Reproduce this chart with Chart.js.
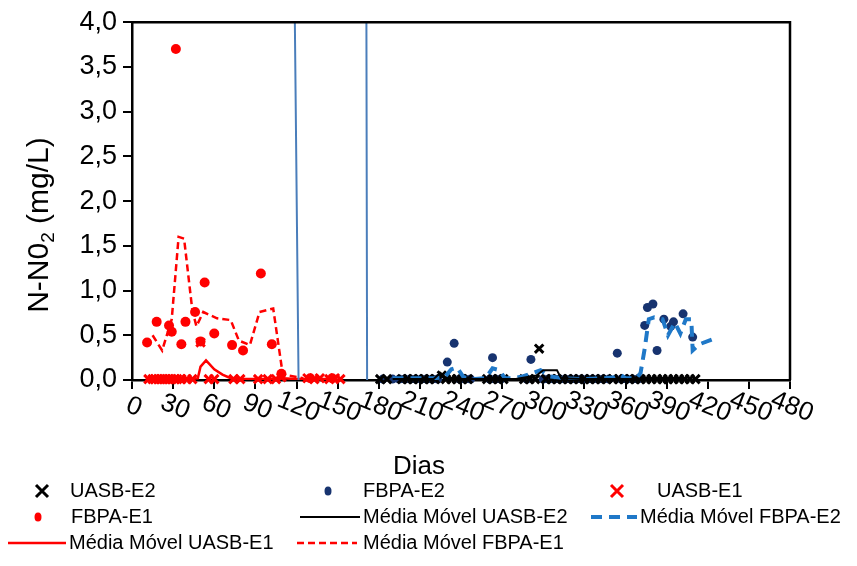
<!DOCTYPE html>
<html>
<head>
<meta charset="utf-8">
<script src="https://cdn.jsdelivr.net/npm/chart.js@4.4.1/dist/chart.umd.min.js"></script>
<style>
  html, body { margin: 0; padding: 0; background: #fff; }
  canvas { display: block; }
</style>
</head>
<body>
<canvas id="chart" width="857" height="566"></canvas>
<script>
// values (days, N-NO2 mg/L)
const uasbE2Days = [181, 186, 197, 201, 205, 209, 213, 217, 221, 226, 229, 233, 237, 241, 245,
  259, 263, 267, 271, 286, 290, 294, 297, 302, 306, 310, 314, 318, 322, 326, 330, 334, 338,
  342, 346, 351, 355, 359, 363, 367, 371, 375, 379, 383, 387, 391, 395, 399, 403, 407, 411];
const uasbE2Vals = [0.01, 0.01, 0.01, 0.01, 0.01, 0.01, 0.01, 0.01, 0.01, 0.05, 0.01, 0.01, 0.01, 0.01, 0.01,
  0.01, 0.01, 0.01, 0.01, 0.01, 0.01, 0.01, 0.35, 0.01, 0.01, 0.01, 0.01, 0.01, 0.01, 0.01, 0.01, 0.01, 0.01,
  0.01, 0.01, 0.01, 0.01, 0.01, 0.01, 0.01, 0.01, 0.01, 0.01, 0.01, 0.01, 0.01, 0.01, 0.01, 0.01, 0.01, 0.01];

const fbpaE2Days = [183, 190, 195, 199, 203, 207, 211, 215, 219, 223, 230, 235, 239, 243, 247,
  261, 263, 265, 269, 288, 291, 300, 304, 308, 312, 316, 320, 324, 328, 332, 336, 340, 344, 348,
  354, 357, 361, 365, 369, 374, 376, 380, 383, 388, 393, 395, 402, 409];
const fbpaE2Vals = [0.01, 0.01, 0.01, 0.01, 0.01, 0.01, 0.01, 0.01, 0.01, 0.01, 0.20, 0.41, 0.01, 0.01, 0.01,
  0.01, 0.25, 0.01, 0.01, 0.01, 0.23, 0.01, 0.01, 0.01, 0.01, 0.01, 0.01, 0.01, 0.01, 0.01, 0.01, 0.01, 0.01, 0.01,
  0.30, 0.01, 0.01, 0.01, 0.01, 0.61, 0.81, 0.85, 0.33, 0.68, 0.60, 0.65, 0.74, 0.48];

const uasbE1Days = [12, 15, 17, 19, 21, 23, 25, 27, 29, 31, 33, 36, 40, 44, 50, 56, 60, 74, 79,
  92, 99, 105, 109, 128, 133, 137, 144, 148, 152];
const uasbE1Vals = [0.01, 0.01, 0.01, 0.01, 0.01, 0.01, 0.01, 0.01, 0.01, 0.01, 0.01, 0.01, 0.01, 0.01, 0.42,
  0.01, 0.01, 0.01, 0.01, 0.01, 0.01, 0.01, 0.03, 0.02, 0.01, 0.02, 0.01, 0.02, 0.01];

const fbpaE1Days = [11, 18, 27, 29, 32, 36, 39, 46, 50, 53, 60, 73, 81, 94, 102, 109, 130, 146];
const fbpaE1Vals = [0.42, 0.65, 0.61, 0.54, 3.70, 0.40, 0.65, 0.76, 0.43, 1.09, 0.52, 0.39, 0.33,
  1.19, 0.40, 0.07, 0.02, 0.02];

const mmUasbE2Days = [190, 205, 220, 225, 230, 245, 260, 280, 295, 300, 310, 313, 330, 350, 370, 390, 405];
const mmUasbE2Vals = [0.01, 0.01, 0.01, 0.08, 0.01, 0.01, 0.01, 0.01, 0.05, 0.11, 0.11, 0.02, 0.01, 0.01, 0.01, 0.01, 0.01];

const mmFbpaE2Days = [190, 200, 210, 220, 228, 233, 237, 242, 250, 258, 263, 268, 272, 278, 285, 291,
  298, 305, 315, 330, 345, 352, 356, 360, 368, 371, 374, 377, 381, 387, 391, 396, 400, 404, 408, 409, 414, 426];
const mmFbpaE2Vals = [0.02, 0.02, 0.02, 0.02, 0.03, 0.12, 0.14, 0.03, 0.01, 0.02, 0.13, 0.11, 0.02, 0.02, 0.04, 0.07,
  0.11, 0.04, 0.02, 0.01, 0.02, 0.03, 0.06, 0.02, 0.02, 0.08, 0.35, 0.68, 0.70, 0.68, 0.50, 0.64, 0.52, 0.68, 0.68, 0.33, 0.40, 0.47];

const mmUasbE1Days = [10, 20, 30, 40, 48, 50, 54, 60, 66, 72, 80, 90, 100, 110, 120, 130, 140, 150];
const mmUasbE1Vals = [0.01, 0.01, 0.01, 0.01, 0.02, 0.15, 0.22, 0.12, 0.06, 0.02, 0.01, 0.01, 0.01, 0.02, 0.01, 0.01, 0.01, 0.01];

const mmFbpaE1Days = [15, 22, 29, 34, 38, 44, 47, 52, 62, 72, 78, 86, 93, 103, 110, 125];
const mmFbpaE1Vals = [0.50, 0.33, 0.68, 1.60, 1.58, 0.78, 0.60, 0.76, 0.69, 0.67, 0.44, 0.39, 0.76, 0.80, 0.06, 0.02];

// thin blue phase markers
const phaseDays = [118.8, 121.5, null, 171, 171.5];
const phaseVals = [4.0, 0, null, 4.0, 0];

const xTicks = [0, 30, 60, 90, 120, 150, 180, 210, 240, 270, 300, 330, 360, 390, 420, 450, 480];

const pts = (days, vals) => days.map((d, i) => ({ x: d, y: vals[i] }));
const FONT = '"Liberation Sans", Arial, sans-serif';
Chart.defaults.font.family = FONT;
Chart.defaults.color = '#000';

const RED = '#ff0000';
const NAVY = '#17336f';
const BLUE = '#1f78c8';

const datasets = [
  { label: 'UASB-E2', type: 'scatter', data: pts(uasbE2Days, uasbE2Vals), pointStyle: 'crossRot',
    pointRadius: 6, borderColor: '#000', backgroundColor: '#000', pointBorderWidth: 3, order: 2 },
  { label: 'FBPA-E2', type: 'scatter', data: pts(fbpaE2Days, fbpaE2Vals), pointStyle: 'circle',
    pointRadius: 4.5, borderColor: NAVY, backgroundColor: NAVY, pointBorderWidth: 0, order: 2 },
  { label: 'UASB-E1', type: 'scatter', data: pts(uasbE1Days, uasbE1Vals), pointStyle: 'crossRot',
    pointRadius: 6, borderColor: RED, backgroundColor: RED, pointBorderWidth: 3, order: 2 },
  { label: 'FBPA-E1', type: 'scatter', data: pts(fbpaE1Days, fbpaE1Vals), pointStyle: 'circle',
    pointRadius: 5, borderColor: RED, backgroundColor: RED, pointBorderWidth: 0, order: 2 },
  { label: 'Média Móvel UASB-E2', type: 'line', data: pts(mmUasbE2Days, mmUasbE2Vals),
    borderColor: '#000', borderWidth: 2, pointRadius: 0, tension: 0, order: 1 },
  { label: 'Média Móvel FBPA-E2', type: 'line', data: pts(mmFbpaE2Days, mmFbpaE2Vals),
    borderColor: BLUE, borderWidth: 4, borderDash: [11, 7], pointRadius: 0, tension: 0, order: 1 },
  { label: 'Média Móvel UASB-E1', type: 'line', data: pts(mmUasbE1Days, mmUasbE1Vals),
    borderColor: RED, borderWidth: 2.5, pointRadius: 0, tension: 0, order: 1 },
  { label: 'Média Móvel FBPA-E1', type: 'line', data: pts(mmFbpaE1Days, mmFbpaE1Vals),
    borderColor: RED, borderWidth: 2.5, borderDash: [7, 4], pointRadius: 0, tension: 0, order: 1 },
  { label: 'fases', type: 'line', data: pts(phaseDays, phaseVals), spanGaps: false,
    borderColor: '#4a7ebb', borderWidth: 2, pointRadius: 0, tension: 0, order: 0 }
];
datasets.forEach(d => { if (d.type === 'scatter') d.clip = 12; });

// legend placement (x of marker / text, row y)
const legendItems = [
  { ds: 0, mx: 42, tx: 70, y: 491 },
  { ds: 1, mx: 328, tx: 363, y: 491 },
  { ds: 2, mx: 617, tx: 657, y: 491 },
  { ds: 3, mx: 38, tx: 71, y: 517 },
  { ds: 4, x1: 300, x2: 360, tx: 363, y: 517 },
  { ds: 5, x1: 591, x2: 637, tx: 640, y: 517 },
  { ds: 6, x1: 8, x2: 66, tx: 69, y: 543 },
  { ds: 7, x1: 297, x2: 357, tx: 363, y: 543 }
];

const extras = {
  id: 'extras',
  afterDraw(chart) {
    const ctx = chart.ctx;
    const a = chart.chartArea;
    ctx.save();
    // top and right frame
    ctx.strokeStyle = '#000';
    ctx.lineWidth = 2.5;
    ctx.beginPath();
    ctx.moveTo(a.left, a.top);
    ctx.lineTo(a.right, a.top);
    ctx.lineTo(a.right, a.bottom);
    ctx.stroke();

    // slanted x tick labels
    const xs = chart.scales.x;
    ctx.fillStyle = '#000';
    ctx.font = '26px ' + FONT;
    ctx.textAlign = 'center';
    ctx.textBaseline = 'middle';
    xs.ticks.forEach((t, i) => {
      const px = xs.getPixelForTick(i);
      ctx.save();
      ctx.translate(px + 2, 407);
      ctx.rotate(22 * Math.PI / 180);
      ctx.fillText(String(t.value), 0, 0);
      ctx.restore();
    });

    // axis titles
    ctx.font = '26px ' + FONT;
    ctx.fillText('Dias', 419, 467);
    ctx.save();
    ctx.translate(40, 225);
    ctx.rotate(-Math.PI / 2);
    const big = '30px ' + FONT, small = '19px ' + FONT;
    ctx.font = big;
    const p1 = 'N-N0', p3 = ' (mg/L)';
    const w1 = ctx.measureText(p1).width, w3 = ctx.measureText(p3).width;
    ctx.font = small;
    const w2 = ctx.measureText('2').width;
    let x0 = -(w1 + w2 + w3) / 2;
    ctx.textAlign = 'left';
    ctx.font = big;
    ctx.fillText(p1, x0, 0);
    ctx.font = small;
    ctx.fillText('2', x0 + w1, 9);
    ctx.font = big;
    ctx.fillText(p3, x0 + w1 + w2, 0);
    ctx.restore();

    // legend
    ctx.font = '20px ' + FONT;
    ctx.textAlign = 'left';
    ctx.textBaseline = 'middle';
    legendItems.forEach(it => {
      const d = chart.data.datasets[it.ds];
      if (d.type === 'scatter') {
        ctx.save();
        if (d.pointStyle === 'crossRot') {
          ctx.strokeStyle = d.borderColor;
          ctx.lineWidth = 3;
          const r = 6;
          ctx.beginPath();
          ctx.moveTo(it.mx - r, it.y - r); ctx.lineTo(it.mx + r, it.y + r);
          ctx.moveTo(it.mx + r, it.y - r); ctx.lineTo(it.mx - r, it.y + r);
          ctx.stroke();
        } else {
          ctx.fillStyle = d.backgroundColor;
          ctx.beginPath();
          ctx.ellipse(it.mx, it.y, 3.5, 4.5, 0, 0, Math.PI * 2);
          ctx.fill();
        }
        ctx.restore();
      } else {
        ctx.save();
        ctx.strokeStyle = d.borderColor;
        ctx.lineWidth = d.borderWidth;
        ctx.setLineDash(d.borderDash || []);
        ctx.beginPath();
        ctx.moveTo(it.x1, it.y); ctx.lineTo(it.x2, it.y);
        ctx.stroke();
        ctx.restore();
      }
      ctx.fillStyle = '#000';
      ctx.fillText(d.label, it.tx, it.y);
    });
    ctx.restore();
  }
};

new Chart(document.getElementById('chart'), {
  data: { datasets },
  options: {
    responsive: false,
    animation: false,
    layout: { padding: { left: 0, top: 20, right: 67, bottom: 0 } },
    plugins: { legend: { display: false }, tooltip: { enabled: false } },
    scales: {
      x: {
        type: 'linear', min: 0, max: 480,
        afterBuildTicks: s => { s.ticks = xTicks.map(v => ({ value: v })); },
        afterFit: s => { s.height = 186; },
        ticks: { display: false, autoSkip: false },
        grid: { drawOnChartArea: false, drawTicks: true, tickLength: 9, color: '#000', lineWidth: 2 },
        border: { display: true, color: '#000', width: 2.5 }
      },
      y: {
        type: 'linear', min: 0, max: 4,
        afterFit: s => { s.width = 132; },
        ticks: { stepSize: 0.5, padding: 6, font: { size: 27 }, color: '#000',
          callback: v => v.toFixed(1).replace('.', ',') },
        grid: { drawOnChartArea: false, drawTicks: true, tickLength: 9, color: '#000', lineWidth: 2 },
        border: { display: true, color: '#000', width: 2.5 }
      }
    }
  },
  plugins: [extras]
});
</script>
</body>
</html>
